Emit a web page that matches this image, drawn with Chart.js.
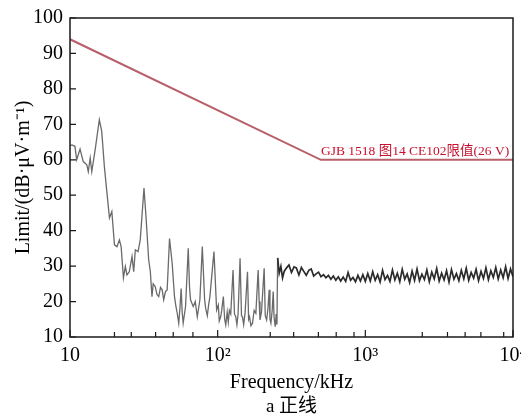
<!DOCTYPE html>
<html>
<head>
<meta charset="utf-8">
<script src="https://cdn.jsdelivr.net/npm/chart.js@4.4.1/dist/chart.umd.min.js"></script>
<style>
  html, body { margin: 0; padding: 0; background: #fff; }
  #wrap { width: 521px; height: 419px; }
</style>
</head>
<body>
<div id="wrap"><canvas id="c"></canvas></div>
<script>
// limit line (kHz, dBuV)
const limitFreq = [10, 500, 10000];
const limitDb = [94, 60, 60];

// measured conducted emission, [kHz, dBuV]
const noise = [
  [10.0,64.0],[10.3,64.2],[10.8,63.8],[11.1,60.0],[11.7,63.0],[12.3,59.5],[13.0,58.6],[13.3,56.7],
  [13.7,60.5],[14.05,56.7],[14.8,62.8],[15.8,71.3],[16.4,68.0],[17.1,58.0],[17.8,50.6],[18.5,43.6],
  [19.2,45.4],[20.0,36.0],[20.8,35.5],[21.6,37.4],[22.2,35.5],[23.0,26.7],[23.7,29.9],[24.3,27.5],
  [25.2,28.4],[26.3,32.7],[27.0,28.4],[27.7,34.6],[28.9,34.1],[29.9,37.4],[30.7,44.0],[31.7,52.0],
  [32.7,44.0],[34.1,31.8],[35.0,28.4],[35.9,21.4],[36.6,25.0],[37.8,24.2],[38.8,22.0],[39.9,21.4],
  [41.0,24.0],[42.1,23.3],[43.1,20.5],[44.3,22.8],[45.5,23.3],[47.2,37.8],[49.2,30.8],[51.0,21.4],
  [52.0,19.0],[53.2,16.7],[54.5,13.9],[55.5,18.0],[56.6,23.7],[57.5,17.0],[58.4,13.9],[60.6,18.6],
  [63.2,35.0],[64.5,24.0],[65.5,20.5],[68.3,18.6],[70.5,20.0],[72.8,15.7],[75.8,20.5],[78.7,35.5],
  [81.6,20.5],[83.0,18.0],[85.1,16.0],[86.8,19.0],[88.6,21.4],[94.4,34.1],[98.4,17.6],[101,19.0],
  [102.5,14.5],[104.8,15.7],[106.5,17.5],[109.3,21.4],[111.5,15.0],[113.4,13.4],[116,17.0],[118,14.2],
  [120,17.5],[122.6,16.5],[127.1,28.9],[130,16.5],[132.6,15.7],[135,13.5],[137.5,16.5],[141.8,32.2],
  [145,16.0],[147.2,15.7],[150,13.5],[153.3,16.8],[159.2,28.4],[162,15.0],[164.3,15.7],[168,13.2],
  [172.2,13.9],[176.6,17.5],[181.4,16.7],[188.0,28.9],[191,20.0],[193.5,14.8],[198,17.0],[206.5,29.4],
  [210,16.0],[214.5,14.8],[219,18.0],[223.4,23.3],[226,15.0],[229.4,13.9],[234,17.5],[237.8,22.8],
  [241,15.5],[245.4,12.9],[249,16.5],[252,13.5],[254.7,32.3],[261,28.0],[268,29.9],[275,26.7],
  [282,28.5],[293,29.5],[304,30.3],[316,28.2],[329,29.8],[341,29.5],[355,27.5],[369,29.6],
  [383,28.5],[398,27.4],[414,28.8],[430,29.2],[447,27.2],[464,27.8],[482,28.3],[501,27.0],
  [521,27.6],[541,26.7],[562,27.4],[584,26.3],[607,27.2],[631,26.0],[656,27.0],[681,25.8],
  [708,26.9],[736,25.7],[764,28.2],[794,26.0],[825,26.8],[858,25.6],[891,27.4],[926,25.8],
  [962,27.6],[1000,25.7],
  [1039,27.9],[1080,25.8],[1122,28.4],[1166,26.0],[1212,27.6],[1259,25.5],[1308,28.8],[1359,26.2],
  [1413,27.4],[1468,25.7],[1526,28.9],[1585,26.1],[1647,28.0],[1711,25.6],[1778,29.1],[1848,26.3],
  [1920,27.8],[1995,25.4],[2073,28.6],[2154,26.0],[2239,29.2],[2326,25.9],[2417,27.7],[2512,26.2],
  [2610,28.9],[2712,25.6],[2818,28.3],[2929,26.4],[3043,29.3],[3162,25.8],[3286,28.0],[3415,26.1],
  [3548,28.7],[3687,25.5],[3831,29.0],[3981,26.3],[4137,27.9],[4299,25.9],[4467,28.8],[4642,26.4],
  [4823,29.4],[5012,26.0],[5208,28.2],[5412,26.6],[5623,29.1],[5843,25.9],[6072,28.5],[6310,26.5],
  [6556,29.5],[6813,26.2],[7079,28.7],[7356,26.8],[7644,29.6],[7943,26.4],[8254,28.9],[8577,26.7],
  [8913,29.8],[9261,26.5],[9624,29.2],[10000,27.0]
];

const xMajor = [10, 100, 1000, 10000];
const xLabels = ['10', '10²', '10³', '10⁴'];
const xMinor = [20, 26, 38, 50, 68, 227, 327, 481, 635, 838, 2430, 3600, 4740, 6060, 8650];
const yTicks = [10, 20, 30, 40, 50, 60, 70, 80, 90, 100];

const limitLabel = 'GJB 1518 图14 CE102限值(26 V)';
const caption = 'a 正线';

const SERIF = '"Liberation Serif", "Times New Roman", "Noto Sans CJK SC", serif';

const framePlugin = {
  id: 'frame',
  afterDraw(chart) {
    const { ctx, chartArea: a, scales } = chart;
    ctx.save();
    ctx.strokeStyle = '#1a1a1a';
    ctx.lineWidth = 1.5;
    ctx.strokeRect(a.left, a.top, a.right - a.left, a.bottom - a.top);
    ctx.lineWidth = 1.2;
    ctx.beginPath();
    yTicks.forEach(v => {
      const y = scales.y.getPixelForValue(v);
      ctx.moveTo(a.left, y); ctx.lineTo(a.left + 6, y);
    });
    xMajor.forEach(v => {
      const x = scales.x.getPixelForValue(v);
      ctx.moveTo(x, a.bottom); ctx.lineTo(x, a.bottom - 7);
    });
    xMinor.forEach(v => {
      const x = scales.x.getPixelForValue(v);
      ctx.moveTo(x, a.bottom); ctx.lineTo(x, a.bottom - 5);
    });
    ctx.stroke();

    // limit label
    ctx.fillStyle = '#c8102e';
    ctx.font = '13.5px ' + SERIF;
    ctx.textAlign = 'left';
    ctx.textBaseline = 'alphabetic';
    ctx.fillText(limitLabel, scales.x.getPixelForValue(500), scales.y.getPixelForValue(60) - 5);

    // caption
    ctx.fillStyle = '#000';
    ctx.font = '19px ' + SERIF;
    ctx.textAlign = 'center';
    ctx.textBaseline = 'middle';
    ctx.fillText(caption, (a.left + a.right) / 2, 407);
    ctx.restore();
  }
};

new Chart(document.getElementById('c'), {
  type: 'line',
  data: {
    datasets: [
      {
        data: noise.map(p => ({ x: p[0], y: p[1] })),
        borderColor: '#444',
        borderWidth: 1.3,
        pointRadius: 0,
        tension: 0,
        segment: {
          borderColor: c => c.p0.parsed.x >= 254 ? '#2b2b2b' : '#6a6a6a',
          borderWidth: c => c.p0.parsed.x >= 254 ? 1.7 : 1.3
        }
      },
      {
        data: limitFreq.map((f, i) => ({ x: f, y: limitDb[i] })),
        borderColor: '#b8606a',
        borderWidth: 2,
        pointRadius: 0,
        tension: 0
      }
    ]
  },
  options: {
    responsive: true,
    maintainAspectRatio: false,
    animation: false,
    layout: { padding: { left: 0, top: 18, right: 8, bottom: 0 } },
    plugins: { legend: { display: false }, tooltip: { enabled: false } },
    scales: {
      x: {
        type: 'logarithmic',
        min: 10,
        max: 10000,
        afterBuildTicks: s => { s.ticks = xMajor.map(v => ({ value: v })); },
        afterFit: s => { s.height = 82; s.paddingLeft = 0; s.paddingRight = 0; },
        grid: { display: false, drawTicks: false },
        border: { display: false },
        ticks: {
          autoSkip: false,
          maxRotation: 0,
          padding: 7,
          color: '#000',
          font: { family: SERIF, size: 20 },
          callback: v => xLabels[xMajor.indexOf(v)]
        },
        title: {
          display: true,
          text: 'Frequency/kHz',
          color: '#000',
          font: { family: SERIF, size: 20 },
          padding: { top: 0, bottom: 24 }
        }
      },
      y: {
        min: 10,
        max: 100,
        afterBuildTicks: s => { s.ticks = yTicks.map(v => ({ value: v })); },
        afterFit: s => { s.width = 70; s.paddingTop = 0; s.paddingBottom = 0; },
        grid: { display: false, drawTicks: false },
        border: { display: false },
        ticks: {
          padding: 7,
          color: '#000',
          font: { family: SERIF, size: 20 }
        },
        title: {
          display: true,
          text: 'Limit/(dB·μV·m⁻¹)',
          color: '#000',
          font: { family: SERIF, size: 20 },
          padding: { top: 12, bottom: 0 }
        }
      }
    }
  },
  plugins: [framePlugin]
});
</script>
</body>
</html>
